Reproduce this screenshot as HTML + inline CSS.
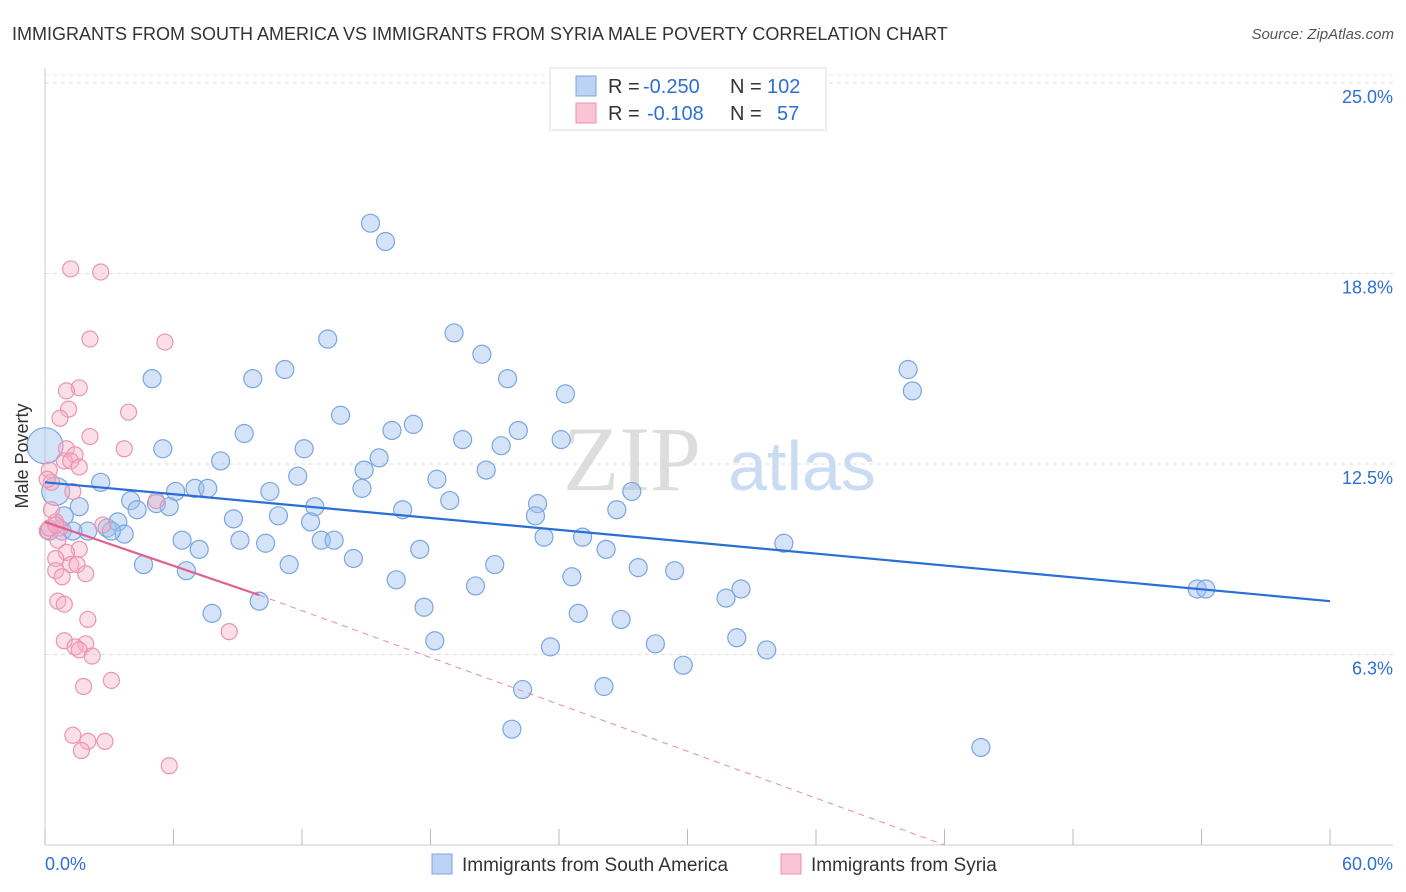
<!DOCTYPE html>
<html><head><meta charset="utf-8"><style>
body{margin:0;background:#fff;font-family:"Liberation Sans",sans-serif;}
svg{display:block}
</style></head><body>
<svg id="c" width="1406" height="892">
<text x="12" y="40" font-size="18" fill="#333">IMMIGRANTS FROM SOUTH AMERICA VS IMMIGRANTS FROM SYRIA MALE POVERTY CORRELATION CHART</text>
<text x="1394" y="39" font-size="15" fill="#555" font-style="italic" text-anchor="end">Source: ZipAtlas.com</text>
<g id="grid"></g>
<text x="632" y="490" font-size="92" fill="#ddd" font-family="Liberation Serif" text-anchor="middle">ZIP</text>
<text x="802" y="490" font-size="70" fill="#c9dcf2" text-anchor="middle">atlas</text>
<g id="pts"></g>
<g id="trend"></g>
<text x="28" y="456" font-size="18" fill="#333" transform="rotate(-90 28 456)" text-anchor="middle">Male Poverty</text>
<g>
<rect x="550" y="68" width="276" height="62" fill="#fff" stroke="#ddd"/>
<rect x="576" y="76" width="20" height="20" fill="#bcd3f4" stroke="#7aa6e0"/>
<rect x="576" y="103" width="20" height="20" fill="#f9c4d4" stroke="#eb94b1"/>
<text x="608" y="93" font-size="20" fill="#333">R =</text>
<text x="643" y="93" font-size="20" fill="#2e6fd4">-0.250</text>
<text x="730" y="93" font-size="20" fill="#333">N =</text>
<text x="767" y="93" font-size="20" fill="#2e6fd4">102</text>
<text x="608" y="120" font-size="20" fill="#333">R =</text>
<text x="647" y="120" font-size="20" fill="#2e6fd4">-0.108</text>
<text x="730" y="120" font-size="20" fill="#333">N =</text>
<text x="777" y="120" font-size="20" fill="#2e6fd4">57</text>
</g>
<g>
<rect x="432" y="854" width="20" height="20" fill="#bcd3f4" stroke="#7aa6e0"/>
<text x="462" y="871" font-size="19" fill="#333">Immigrants from South America</text>
<rect x="781" y="854" width="20" height="20" fill="#f9c4d4" stroke="#eb94b1"/>
<text x="811" y="871" font-size="19" fill="#333">Immigrants from Syria</text>
</g>
</svg>
<script>
const yTicks=[6.25,12.5,18.75,25];
const yTickLabels=["6.3%","12.5%","18.8%","25.0%"];
const xTicks=[0,6,12,18,24,30,36,42,48,54,60];
const blueX=[15.2,15.9,13.2,19.1,20.4,11.2,9.7,5.0,21.6,24.3,40.3,40.5,13.8,17.2,16.2,9.3,22.1,19.5,21.3,24.1,5.5,12.1,15.6,8.2,20.6,14.9,11.8,18.3,2.6,6.1,7.0,7.6,14.8,10.5,27.4,4.0,5.2,5.8,23.0,18.9,12.6,4.3,10.9,16.7,26.7,8.8,12.4,22.9,1.6,0.9,2.0,2.9,3.4,3.7,6.4,9.1,10.3,12.9,13.5,23.3,25.1,7.2,17.5,26.2,34.5,14.4,4.6,11.4,21.0,6.6,27.7,29.4,24.6,16.4,20.1,32.5,31.8,53.8,54.2,10.0,7.8,17.7,24.9,26.9,18.2,28.5,32.3,23.6,33.7,29.8,22.3,26.1,21.8,43.7,0,0.5,0.8,1.3,0.2,3.1];
const blueY=[20.4,19.8,16.6,16.8,16.1,15.6,15.3,15.3,15.3,14.8,15.6,14.9,14.1,13.8,13.6,13.5,13.6,13.3,13.1,13.3,13.0,13.0,12.7,12.6,12.3,12.3,12.1,12.0,11.9,11.6,11.7,11.7,11.7,11.6,11.6,11.3,11.2,11.1,11.2,11.3,11.1,11.0,10.8,11.0,11.0,10.7,10.6,10.8,11.1,10.8,10.3,10.4,10.6,10.2,10.0,10.0,9.9,10.0,10.0,10.1,10.1,9.7,9.7,9.7,9.9,9.4,9.2,9.2,9.2,9.0,9.1,9.0,8.8,8.7,8.5,8.4,8.1,8.4,8.4,8.0,7.6,7.8,7.6,7.4,6.7,6.6,6.8,6.5,6.4,5.9,5.1,5.2,3.8,3.2,13.1,11.6,10.3,10.3,10.3,10.3];
const pinkX=[1.2,2.6,2.1,5.6,1.6,1.0,1.1,3.9,0.7,2.1,3.7,1.0,1.4,0.9,1.2,1.6,0.2,0.3,0.1,1.3,5.2,0.5,0.7,2.7,0.1,0.6,1.6,1.0,0.5,1.2,1.5,0.5,1.9,0.8,0.6,0.9,2.0,8.6,0.9,1.9,1.4,1.6,2.2,3.1,1.8,1.3,2.0,2.8,1.7,5.8,0.2,0.3,0.5];
const pinkY=[18.9,18.8,16.6,16.5,15.0,14.9,14.3,14.2,14.0,13.4,13.0,13.0,12.8,12.6,12.6,12.4,12.3,11.9,12.0,11.6,11.3,10.6,10.4,10.5,10.3,10.0,9.7,9.6,9.4,9.2,9.2,9.0,8.9,8.8,8.0,7.9,7.4,7.0,6.7,6.6,6.5,6.4,6.2,5.4,5.2,3.6,3.4,3.4,3.1,2.6,10.4,11.0,10.5];
const blueTrendX=[0,60], blueTrendY=[11.9,8.0];
const pinkTrendX=[0,10,42], pinkTrendY=[10.6,8.2,0];
const X=v=>45+v/60*1285, Y=v=>845-v/25*762;
const NS="http://www.w3.org/2000/svg";
function mk(t,a,p){const e=document.createElementNS(NS,t);for(const k in a)e.setAttribute(k,a[k]);p.appendChild(e);return e;}
const g=document.getElementById('grid');
yTicks.forEach((t,i)=>{
 const l=mk('line',{x1:45,x2:1393,y1:Y(t),y2:Y(t),stroke:'#ddd','stroke-dasharray':'4,4'},g);
 
 
 const tx=mk('text',{x:1393,y:Y(t)+20,'font-size':18,fill:'#2e6fd4','text-anchor':'end'},g);
 tx.textContent=yTickLabels[i];
 
 
});
const t25=mk('line',{x1:45,x2:1393,y1:Y(25)-8,y2:Y(25)-8,stroke:'#eee','stroke-dasharray':'4,4'},g);


const ax=mk('line',{x1:45,x2:1393,y1:845,y2:845,stroke:'#ccc'},g);


const ay=mk('line',{x1:45,x2:45,y1:68,y2:845,stroke:'#ccc'},g);


xTicks.forEach(t=>{const l=mk('line',{x1:X(t),x2:X(t),y1:829,y2:845,stroke:'#bbb'},g);
 
 });
[[0,"0.0%","start",45],[60,"60.0%","end",1393]].forEach(a=>{const tx=mk('text',{x:a[3],y:870,'font-size':18,fill:'#2e6fd4','text-anchor':a[2]},g);tx.textContent=a[1];
 
 });
const p=document.getElementById('pts');
blueX.forEach((x,i)=>{const r=(i==94)?18:(i==95)?14:9;
 const c=mk('circle',{cx:X(x),cy:Y(blueY[i]),r:r,fill:'rgba(160,194,238,0.45)',stroke:'#7aa6e0','stroke-width':1.2},p);
 
 });
pinkX.forEach((x,i)=>{const c=mk('circle',{cx:X(x),cy:Y(pinkY[i]),r:8,fill:'rgba(246,176,198,0.4)',stroke:'#eb94b1','stroke-width':1.2},p);
 
 });
const tr=document.getElementById('trend');
const bl=mk('line',{x1:X(blueTrendX[0]),y1:Y(blueTrendY[0]),x2:X(blueTrendX[1]),y2:Y(blueTrendY[1]),stroke:'#2a6fd6','stroke-width':2.2},tr);


const pl=mk('line',{x1:X(pinkTrendX[0]),y1:Y(pinkTrendY[0]),x2:X(pinkTrendX[1]),y2:Y(pinkTrendY[1]),stroke:'#e0608f','stroke-width':2.2},tr);


const pd=mk('line',{x1:X(pinkTrendX[1]),y1:Y(pinkTrendY[1]),x2:X(pinkTrendX[2]),y2:Y(pinkTrendY[2]),stroke:'#e88aab','stroke-width':1,'stroke-dasharray':'6,5'},tr);


</script>
</body></html>
